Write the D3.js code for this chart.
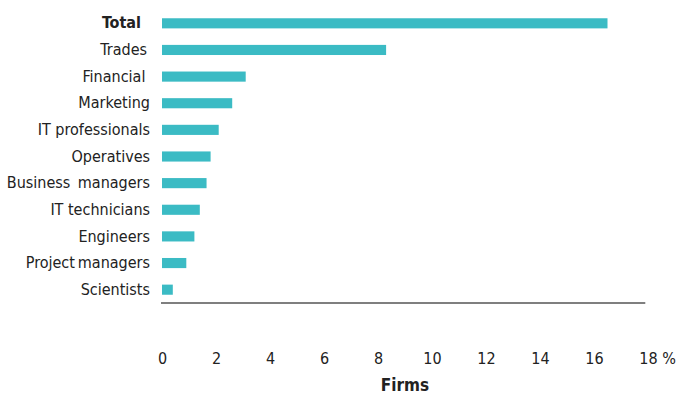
<body style="margin:0;background:#fff">
<script src="https://d3js.org/d3.v7.min.js"></script>
<script>
    const categories = ["Total", "Trades", "Financial ", "Marketing", "IT professionals", "Operatives",
        "Business \u2009managers", "IT technicians", "Engineers", "Project\u2009managers", "Scientists"];
    const values = [16.5, 8.3, 3.1, 2.6, 2.1, 1.8, 1.65, 1.4, 1.2, 0.9, 0.4];
    const ticks = [0, 2, 4, 6, 8, 10, 12, 14, 16, 18];

    const width = 679;
    const height = 394;
    const font = "'DejaVu Sans Condensed', 'DejaVu Sans', sans-serif";
    const textColor = "#222";

    const x = d3.scaleLinear().domain([0, 18]).range([162, 648]);
    const y = d3.scaleBand().domain(categories).range([10, 303])
        .paddingInner(0.62).paddingOuter(0.31);

    const svg = d3.select("body").append("svg")
        .attr("width", width)
        .attr("height", height)
        .style("font-family", font);

    svg.selectAll("rect")
        .data(values)
        .enter()
        .append("rect")
        .attr("x", x(0))
        .attr("y", (d, i) => y(categories[i]))
        .attr("width", d => x(d) - x(0))
        .attr("height", y.bandwidth())
        .attr("fill", "#3bbbc4");

    // category labels
    const yAxis = d3.axisLeft(y).tickSize(0).tickPadding(0);
    svg.append("g")
        .attr("transform", "translate(150,0)")
        .call(yAxis)
        .call(g => g.select(".domain").remove())
        .selectAll("text")
        .attr("fill", textColor)
        .style("font-size", "16px")
        .style("font-family", font)
        .style("white-space", "pre")
        .style("font-weight", d => d === "Total" ? "bold" : "normal")
        .attr("x", d => d === "Total" ? -9 : d === "Trades" ? -3 : 0);

    // baseline
    svg.append("line")
        .attr("x1", x(0) - 1)
        .attr("x2", x(17.9))
        .attr("y1", 303)
        .attr("y2", 303)
        .attr("stroke", "#7f7f7f")
        .attr("stroke-width", 2);

    // value axis labels
    const xAxis = d3.axisBottom(x).tickValues(ticks).tickSize(0).tickPadding(0);
    const gx = svg.append("g")
        .attr("transform", "translate(0,352)")
        .call(xAxis)
        .call(g => g.select(".domain").remove());
    gx.selectAll("text")
        .attr("fill", textColor)
        .style("font-size", "16px")
        .style("font-family", font)
        .attr("dy", "0.72em");
    const last = gx.selectAll(".tick").filter(d => d === 18).select("text");
    const w18 = last.node().getComputedTextLength();
    last.attr("text-anchor", "start").attr("x", -w18 / 2).text("18 %");

    svg.append("text")
        .attr("x", 405)
        .attr("y", 391)
        .attr("text-anchor", "middle")
        .attr("fill", textColor)
        .style("font-size", "17px")
        .style("font-weight", "bold")
        .text("Firms");
</script>
</body>
